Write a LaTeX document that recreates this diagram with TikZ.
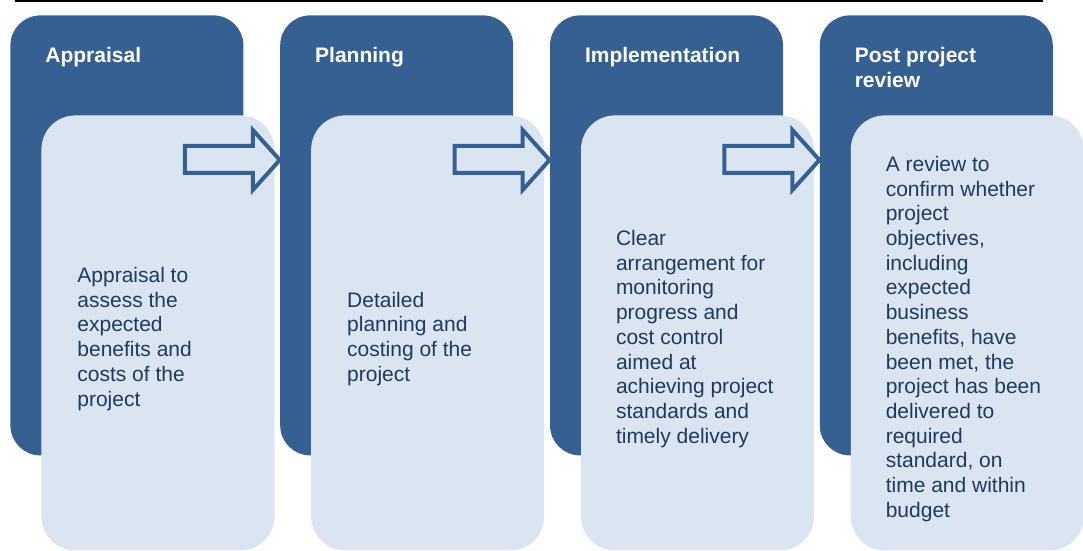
\documentclass[tikz,border=0pt]{standalone}
\usepackage{fontspec}
\setmainfont{Liberation Sans}
\usepackage{tikz}
\usetikzlibrary{positioning}
\definecolor{stagedark}{HTML}{366092}
\definecolor{stagelight}{HTML}{DBE5F1}
\definecolor{stagetext}{HTML}{1F3A5C}

\begin{document}
\begin{tikzpicture}[
            x=0.5pt, y=-0.5pt,
            stagebox/.style={rectangle, fill=stagedark, rounded corners=15pt, minimum width=116.5pt, minimum height=220pt, inner sep=0pt},
            detailbox/.style={rectangle, fill=stagelight, rounded corners=17pt, minimum width=116.5pt, minimum height=217.5pt, inner sep=0pt},
            titletext/.style={anchor=north west, inner sep=0pt, text=white, align=left, font=\fontsize{10.5pt}{12.5pt}\selectfont\bfseries},
            bodytext/.style={anchor=west, inner sep=0pt, text=stagetext, align=left, font=\fontsize{10.5pt}{12.35pt}\selectfont, yshift=-3pt},
            flowarrow/.style={draw=stagedark, fill=stagelight, line width=2pt, line join=miter},
        ]
        \useasboundingbox (0,0) rectangle (1083,551);
        \draw[line width=1pt] (15,1) -- (1043,1);

        \node[stagebox, anchor=north west] (appraisal) at (10,15) {};
        \node[stagebox] (planning) [right=18pt of appraisal] {};
        \node[stagebox] (implementation) [right=18pt of planning] {};
        \node[stagebox] (review) [right=18pt of implementation] {};

        \node[titletext] (appraisaltitle) [below right=16pt and 17.5pt of appraisal.north west] {Appraisal};
        \node[titletext] (planningtitle) [below right=16pt and 17.5pt of planning.north west] {Planning};
        \node[titletext] (implementationtitle) [below right=16pt and 17.5pt of implementation.north west] {Implementation};
        \node[titletext] (reviewtitle) [below right=16pt and 17.5pt of review.north west] {Post project\\review};

        \node[detailbox, anchor=north west] (appraisaldetail) at (41,115) {};
        \node[detailbox] (planningdetail) [right=18pt of appraisaldetail] {};
        \node[detailbox] (implementationdetail) [right=18pt of planningdetail] {};
        \node[detailbox] (reviewdetail) [right=18pt of implementationdetail] {};

        \node[bodytext] (appraisaltext) [right=18pt of appraisaldetail.west] {Appraisal to\\assess the\\expected\\benefits and\\costs of the\\project};
        \node[bodytext] (planningtext) [right=18pt of planningdetail.west] {Detailed\\planning and\\costing of the\\project};
        \node[bodytext] (implementationtext) [right=17.5pt of implementationdetail.west] {Clear\\arrangement for\\monitoring\\progress and\\cost control\\aimed at\\achieving project\\standards and\\timely delivery};
        \node[bodytext] (reviewtext) [right=17.5pt of reviewdetail.west] {A review to\\confirm whether\\project\\objectives,\\including\\expected\\business\\benefits, have\\been met, the\\project has been\\delivered to\\required\\standard, on\\time and within\\budget};

        % block arrows, tip on the next stage
        \coordinate (tip1) at ([yshift=-72.5pt]planning.north west);
        \coordinate (tip2) at ([yshift=-72.5pt]implementation.north west);
        \coordinate (tip3) at ([yshift=-72.5pt]review.north west);
        \draw[flowarrow] (tip1) -- ++(-27,-30) -- ++(0,16) -- ++(-68,0) -- ++(0,27) -- ++(68,0) -- ++(0,17) -- cycle;
        \draw[flowarrow] (tip2) -- ++(-27,-30) -- ++(0,16) -- ++(-68,0) -- ++(0,27) -- ++(68,0) -- ++(0,17) -- cycle;
        \draw[flowarrow] (tip3) -- ++(-27,-30) -- ++(0,16) -- ++(-68,0) -- ++(0,27) -- ++(68,0) -- ++(0,17) -- cycle;

    \end{tikzpicture}
\end{document}
